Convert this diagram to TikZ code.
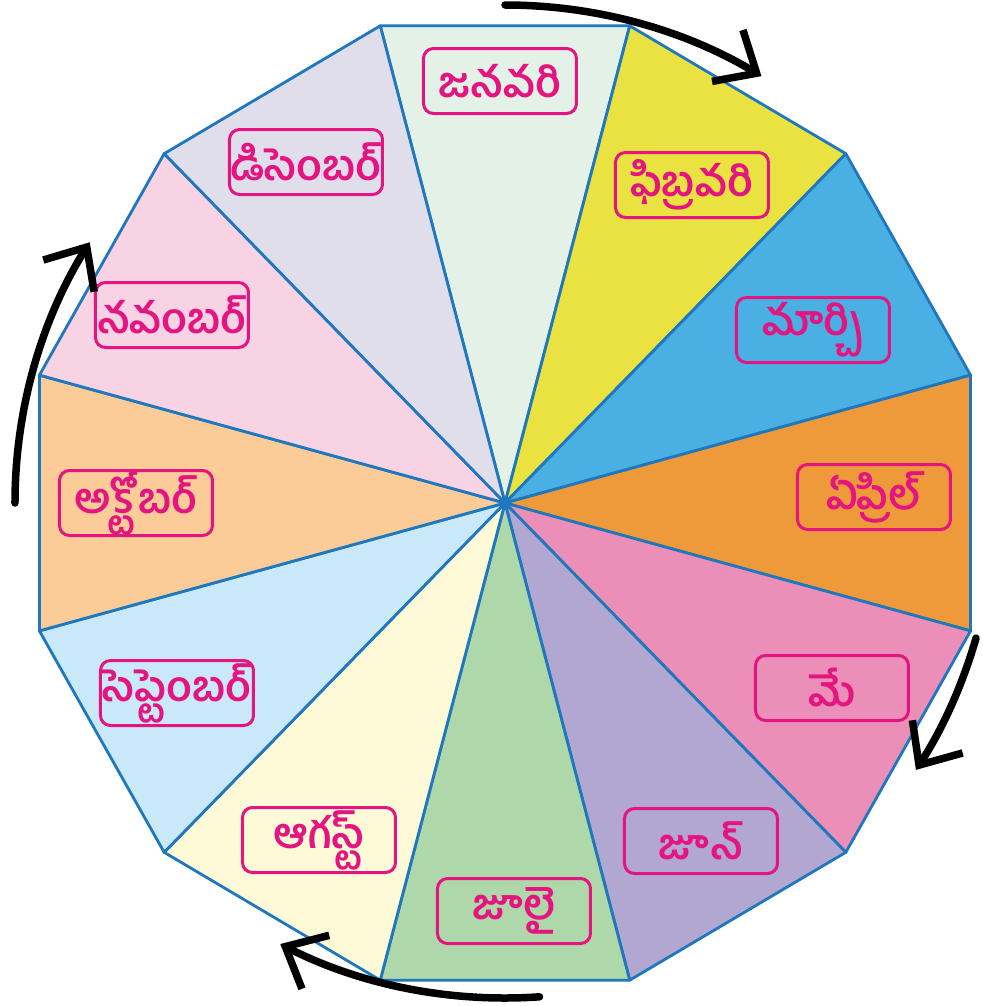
\documentclass[tikz,border=0pt]{standalone}
\usepackage{fontspec}
\newfontfamily\telugu[Script=Telugu]{Hind Guntur}
\definecolor{EdgeBlue}{RGB}{31,120,190}
\definecolor{LblPink}{RGB}{228,21,128}
\definecolor{JanC}{RGB}{227,241,230}
\definecolor{FebC}{RGB}{234,226,64}
\definecolor{MarC}{RGB}{74,175,227}
\definecolor{AprC}{RGB}{239,154,58}
\definecolor{MayC}{RGB}{235,143,184}
\definecolor{JunC}{RGB}{177,167,209}
\definecolor{JulC}{RGB}{174,216,169}
\definecolor{AugC}{RGB}{254,249,215}
\definecolor{SepC}{RGB}{201,232,248}
\definecolor{OctC}{RGB}{251,203,152}
\definecolor{NovC}{RGB}{248,211,228}
\definecolor{DecC}{RGB}{225,222,236}
\usetikzlibrary{arrows.meta}

\begin{document}
\begin{tikzpicture}[x=0.1mm, y=0.1mm,
	sec/.style={draw=EdgeBlue, line width=0.8pt, line join=round},
	lbl/.style={draw=LblPink, line width=0.3mm, rounded corners=1mm,
		minimum width=15.3mm, minimum height=6.5mm, inner sep=0pt,
		text=LblPink, font=\telugu\bfseries\fontsize{12}{14}\selectfont},
	cyc/.style={line width=0.75mm, black, line cap=round, -{Straight Barb[length=3.4mm, width=6mm, line width=0.75mm]}}]
	\useasboundingbox (-505,-503) rectangle (478,503);
	\coordinate (O) at (0,0);
	% sectors, clockwise from January
	\foreach \a/\c in {75/JanC, 45/FebC, 15/MarC, -15/AprC, -45/MayC, -75/JunC,
		-105/JulC, -135/AugC, -165/SepC, -195/OctC, -225/NovC, -255/DecC}
		\draw[sec, fill=\c] (O) -- ({482*cos(\a)},{494*sin(\a)}) -- ({482*cos(\a+30)},{494*sin(\a+30)}) -- cycle;
	% month labels
	\node[lbl] (jan) at (-5,422) {జనవరి};
	\node[lbl] (feb) at (187,318) {ఫిబ్రవరి};
	\node[lbl] (mar) at (308,173) {మార్చి};
	\node[lbl] (apr) at (369,6) {ఏప్రిల్};
	\node[lbl] (may) at (327,-185) {మే};
	\node[lbl] (jun) at (196,-338) {జూన్};
	\node[lbl] (jul) at (9,-408) {జూలై};
	\node[lbl] (aug) at (-186,-337) {ఆగస్ట్};
	\node[lbl] (sep) at (-328,-190) {సెప్టెంబర్};
	\node[lbl] (oct) at (-369,0) {అక్టోబర్};
	\node[lbl] (nov) at (-333,188) {నవంబర్};
	\node[lbl] (dec) at (-199,341) {డిసెంబర్};
	% turning arrows
	\coordinate (t1) at (90:498);  \draw[cyc] (t1) arc[start angle=90, end angle=59, radius=498];
	\coordinate (t2) at (-16:490); \draw[cyc] (t2) arc[start angle=-16, end angle=-33, radius=490];
	\coordinate (t3) at (-86:495); \draw[cyc] (t3) arc[start angle=-86, end angle=-117, radius=495];
	\coordinate (t4) at (180:490); \draw[cyc] (t4) arc[start angle=180, end angle=148, radius=492];
\end{tikzpicture}
\end{document}
